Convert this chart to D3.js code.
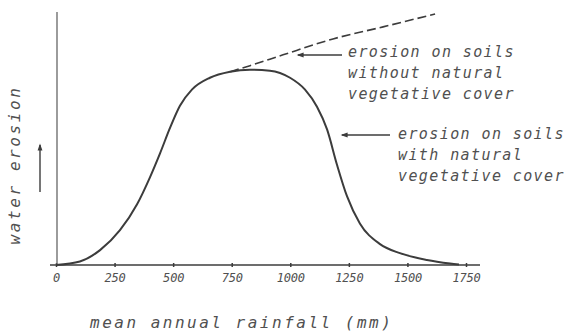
<!DOCTYPE html>
<html>
<head>
<meta charset="utf-8">
<script src="https://cdn.jsdelivr.net/npm/d3@7"></script>
<style>
  html, body { margin: 0; padding: 0; background: #ffffff; }
  svg { display: block; }
  text { font-family: "DejaVu Sans Mono", monospace; font-style: italic; fill: #505050; }
</style>
</head>
<body>
<svg id="chart" width="581" height="335"></svg>
<script>
// Rainfall axis ticks (mm)
const rainfallTicks = [0, 250, 500, 750, 1000, 1250, 1500, 1750];
const tickLabels = ["0", "250", "500", "750", "1000", "1250", "1500", "1750"];

// Erosion with natural vegetative cover (relative units)
const coveredRain    = [0, 102, 188, 273, 346, 401, 444, 487, 529, 580, 657, 743, 828, 913, 999, 1063, 1114, 1157, 1199, 1242, 1297, 1383, 1468, 1583, 1682, 1720];
const coveredErosion = [0, 1.4, 5.9, 13.8, 24.1, 34.8, 44.3, 54.5, 63.2, 69.6, 74.3, 76.7, 77.5, 77.1, 74.3, 69.6, 62.8, 53.8, 39.9, 27.3, 16.5, 8.3, 4.7, 2.0, 0.6, 0.2];

// Erosion without natural vegetative cover (relative units)
const bareRain    = [743, 828, 969, 1182, 1396, 1618];
const bareErosion = [76.7, 79.1, 83.4, 89.7, 94.5, 99.6];

const annotations = [
  { lines: ["erosion on soils", "without natural", "vegetative cover"], x: 348, y: 57, arrow: [342, 298, 55] },
  { lines: ["erosion on soils", "with natural", "vegetative cover"], x: 398, y: 139, arrow: [390, 342, 135] }
];

const svg = d3.select("#chart");
const ink = "#3c3c3c";

const x = d3.scaleLinear().domain([0, 1750]).range([56, 466]);
const y = d3.scaleLinear().domain([0, 100]).range([265, 13]);

// Axes
const xAxis = d3.axisBottom(x)
  .tickValues(rainfallTicks)
  .tickFormat((d, i) => tickLabels[i])
  .tickSizeInner(2)
  .tickSizeOuter(0)
  .tickPadding(6);

const gx = svg.append("g").attr("transform", `translate(0,${y(0)})`).call(xAxis);
gx.select(".domain").remove();
gx.selectAll(".tick line").attr("stroke", ink).attr("stroke-width", 1.5).attr("y1", -2);
gx.selectAll(".tick text")
  .attr("font-size", 12)
  .attr("letter-spacing", -0.2)
  .style("font-family", "'DejaVu Sans Mono', monospace")
  .style("font-style", "italic")
  .attr("fill", "#505050");

svg.append("line")
  .attr("x1", 50).attr("x2", 480)
  .attr("y1", y(0)).attr("y2", y(0))
  .attr("stroke", ink).attr("stroke-width", 1.6);

svg.append("line")
  .attr("x1", 57).attr("x2", 57)
  .attr("y1", y(0)).attr("y2", 12)
  .attr("stroke", "#666").attr("stroke-width", 1.3);

// Curves
const line = d3.line()
  .x(d => x(d[0]))
  .y(d => y(d[1]))
  .curve(d3.curveMonotoneX);

svg.append("path")
  .datum(coveredRain.map((r, i) => [r, coveredErosion[i]]))
  .attr("d", line)
  .attr("fill", "none")
  .attr("stroke", ink)
  .attr("stroke-width", 2);

svg.append("path")
  .datum(bareRain.map((r, i) => [r, bareErosion[i]]))
  .attr("d", line)
  .attr("fill", "none")
  .attr("stroke", ink)
  .attr("stroke-width", 1.6)
  .attr("stroke-dasharray", "9,4");

// Arrow head marker
svg.append("defs").append("marker")
  .attr("id", "head")
  .attr("viewBox", "0 0 10 10")
  .attr("refX", 8).attr("refY", 5)
  .attr("markerWidth", 7).attr("markerHeight", 5)
  .attr("orient", "auto-start-reverse")
  .append("path")
  .attr("d", "M0,1.5 L10,5 L0,8.5 Z")
  .attr("fill", ink);

// Annotations
const clip = svg.append("clipPath").attr("id", "frame");
clip.append("rect").attr("x", 0).attr("y", 0).attr("width", 568).attr("height", 335);

annotations.forEach(a => {
  svg.append("line")
    .attr("x1", a.arrow[0]).attr("x2", a.arrow[1])
    .attr("y1", a.arrow[2]).attr("y2", a.arrow[2])
    .attr("stroke", ink).attr("stroke-width", 1.4)
    .attr("marker-end", "url(#head)");
  const t = svg.append("text")
    .attr("x", a.x).attr("y", a.y)
    .attr("font-size", 15)
    .attr("letter-spacing", 1.4)
    .attr("clip-path", "url(#frame)");
  a.lines.forEach((s, i) => {
    t.append("tspan").attr("x", a.x).attr("dy", i === 0 ? 0 : 21).text(s);
  });
});

// Axis titles
svg.append("text")
  .attr("x", 90).attr("y", 328)
  .attr("font-size", 16)
  .attr("letter-spacing", 2.5)
  .text("mean annual rainfall (mm)");

svg.append("text")
  .attr("transform", "translate(20,165) rotate(-90)")
  .attr("text-anchor", "middle")
  .attr("font-size", 16)
  .attr("letter-spacing", 2.6)
  .text("water erosion");

svg.append("line")
  .attr("x1", 40).attr("x2", 40)
  .attr("y1", 192).attr("y2", 145)
  .attr("stroke", ink).attr("stroke-width", 1.4)
  .attr("marker-end", "url(#head)");
</script>
</body>
</html>
